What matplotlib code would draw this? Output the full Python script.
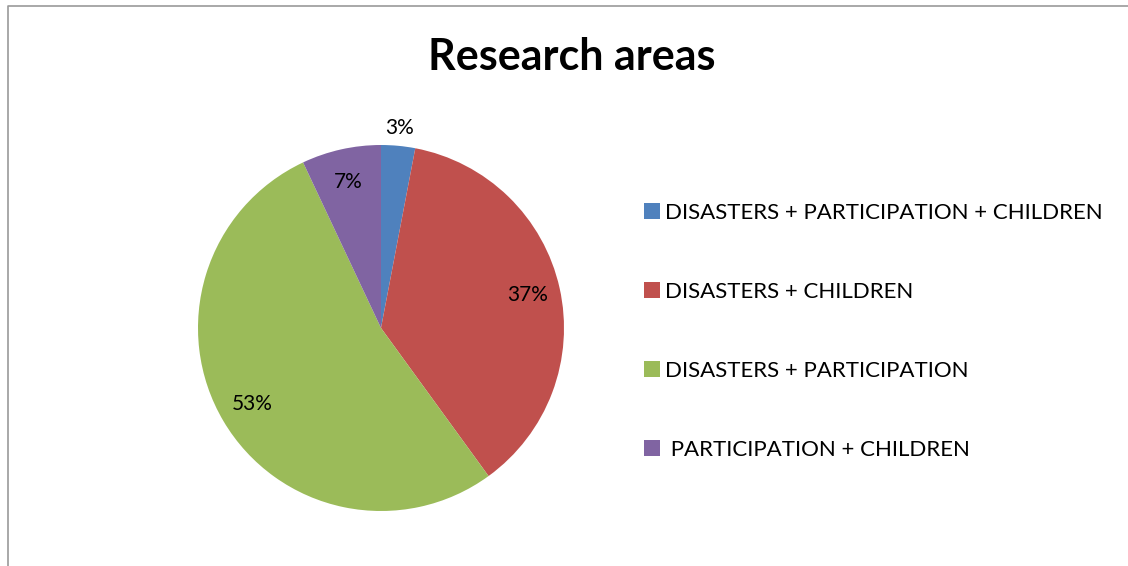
import matplotlib.pyplot as plt
from matplotlib.lines import Line2D
import numpy as np

plt.rcParams['font.family'] = ['Lato', 'DejaVu Sans']

# data
categories = [
    "DISASTERS + PARTICIPATION + CHILDREN",
    "DISASTERS + CHILDREN",
    "DISASTERS + PARTICIPATION",
    " PARTICIPATION + CHILDREN",
]
shares = [3, 37, 53, 7]
colors = ["#4F81BD", "#C0504D", "#9BBB59", "#8064A2"]

W, H = 1128, 566
fig = plt.figure(figsize=(W / 100, H / 100), dpi=100)

# chart border (only top and left edges are visible)
fig.lines.append(Line2D([7.5 / W, 7.5 / W, 1.02], [-0.02, 1 - 5.5 / H, 1 - 5.5 / H],
                        transform=fig.transFigure, color="#9a9a9a",
                        linewidth=1.2))

cx, cy, r = 381, 328, 183
ax = fig.add_axes([(cx - r) / W, (H - cy - r) / H, 2 * r / W, 2 * r / H])
wedges, texts, autotexts = ax.pie(
    shares, colors=colors, startangle=90, counterclock=False,
    autopct=lambda p: "%d%%" % round(p), pctdistance=0.82,
    textprops=dict(fontsize=15, color="black"))
ax.set_xlim(-1, 1)
ax.set_ylim(-1, 1)

# the small slice gets its label outside
w = wedges[0]
ang = np.deg2rad((w.theta1 + w.theta2) / 2)
autotexts[0].set_position((1.1 * np.cos(ang), 1.1 * np.sin(ang)))

fig.text(572 / W, 1 - 57 / H, "Research areas", ha="center", va="center",
         fontsize=31, fontweight="bold")

fig.legend(wedges, categories, loc="upper left",
           bbox_to_anchor=(624 / W, 1 - 183 / H), frameon=False,
           fontsize=16, labelspacing=2.65, handlelength=0.7,
           handleheight=0.7, handletextpad=0.25)

fig.savefig("out.png", dpi=100)
